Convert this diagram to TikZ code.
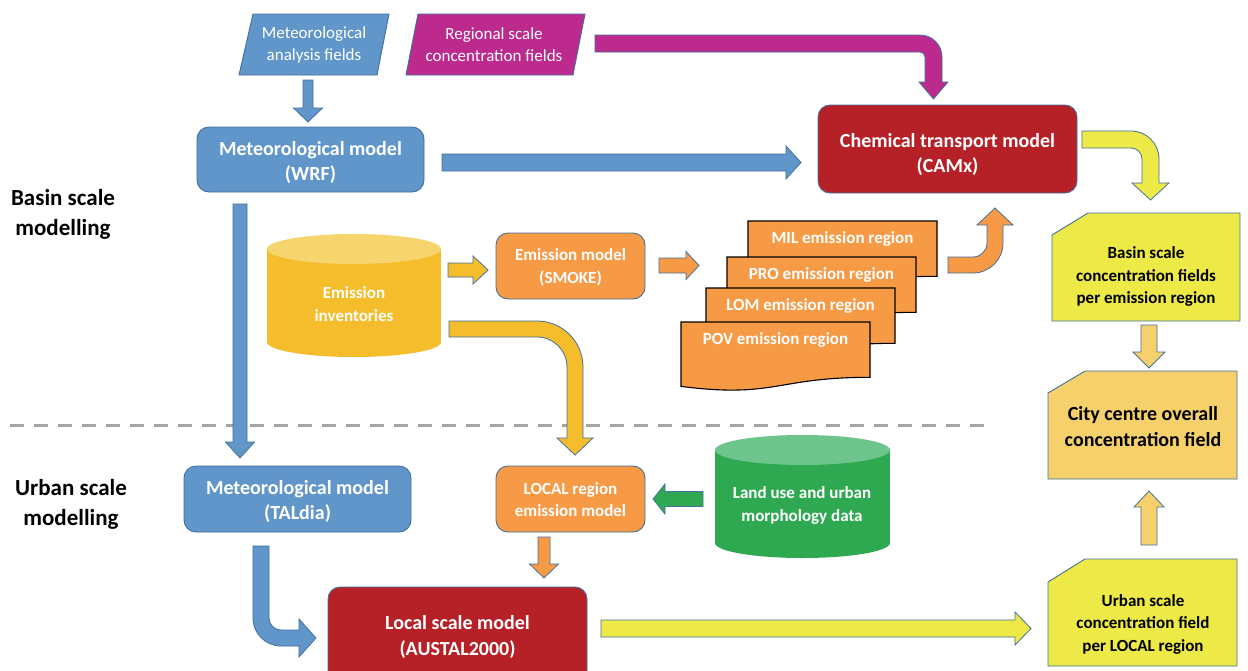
\documentclass[tikz,border=0pt]{standalone}
\usepackage{fontspec}
\setmainfont{Carlito}
\definecolor{cblue}{HTML}{6096C9}
\definecolor{olc}{HTML}{41719C}
\definecolor{cred}{HTML}{B52126}
\definecolor{cmag}{HTML}{BD2A8E}
\definecolor{corange}{HTML}{F79A46}
\definecolor{cgold}{HTML}{F5BC2B}
\definecolor{cgoldl}{HTML}{F7D56E}
\definecolor{cyellow}{HTML}{EDEA48}
\definecolor{clgold}{HTML}{F6D06B}
\definecolor{cgreen}{HTML}{2FA951}
\definecolor{cgreenl}{HTML}{6DC48C}
\definecolor{dashc}{HTML}{A5A5A5}
\newcommand\hblock[7]{% style, x0, xtip, yc, shaft half, head half, head length
  \pgfmathsetmacro\xb{#3-sign(#3-#2)*#7}%
  \draw[#1] (#2,#4-#5) -- (\xb,#4-#5) -- (\xb,#4-#6) -- (#3,#4) -- (\xb,#4+#6) -- (\xb,#4+#5) -- (#2,#4+#5) -- cycle;}
\newcommand\vblock[7]{% style, y0, ytip, xc, shaft half, head half, head length
  \pgfmathsetmacro\yb{#3-sign(#3-#2)*#7}%
  \draw[#1] (#4-#5,#2) -- (#4-#5,\yb) -- (#4-#6,\yb) -- (#4,#3) -- (#4+#6,\yb) -- (#4+#5,\yb) -- (#4+#5,#2) -- cycle;}
\newcommand\docshape[4]{% x1, y1, label, name
  \draw[docst] (#1,#2) -- (#1+189,#2) -- (#1+189,#2+55.3) .. controls (#1+94.5,#2+55.3) and (#1+94.5,#2+76.4) .. (#1,#2+64.4) -- cycle;
  \node[smalltxt, text=white] (#4) at (#1+94.5,#2+18) {#3};}
\begin{document}
\begin{tikzpicture}[x=1pt,y=-1pt,
  smalltxt/.style={font=\fontsize{17}{22.5}\selectfont\bfseries, align=center, inner sep=0pt},
  bigtxt/.style={font=\fontsize{20}{25.5}\selectfont\bfseries, align=center, inner sep=0pt},
  sidetxt/.style={font=\fontsize{23}{30}\selectfont\bfseries, align=center, inner sep=0pt},
  paratxt/.style={font=\fontsize{17}{22}\selectfont, align=center, inner sep=0pt, text=white},
  rbox/.style={draw=olc, line width=0.9pt, rounded corners=12pt, inner sep=0pt},
  shp/.style={draw=olc, line width=0.9pt},
  docst/.style={draw=black, line width=1.1pt, fill=corange},
  ba/.style={draw=olc, line width=0.8pt, fill=#1}]
\useasboundingbox (0,0) rectangle (1248,670);
\clip (0,0) rectangle (1248,670);
\fill[white] (0,0) rectangle (1248,670);

% separator
\draw[dashc, line width=3pt, dash pattern=on 14pt off 10pt] (10,425) -- (985,425);

% side labels
\node[sidetxt] (basinlbl) at (63,214) {Basin scale\\modelling};
\node[sidetxt] (urbanlbl) at (71,504.5) {Urban scale\\modelling};

% input parallelograms
\path[shp, fill=cblue] (253,14) -- (389,14) -- (377,75) -- (239,75) -- cycle;
\node[paratxt] (maf) at (314,45) {Meteorological\\analysis fields};
\path[shp, fill=cmag] (418,14) -- (585,14) -- (573,75) -- (406,75) -- cycle;
\node[paratxt] (rsc) at (494,45) {Regional scale\\concentration fields};

% rounded model boxes
\node[rbox, fill=cblue, minimum width=227pt, minimum height=65pt] (wrf) at (310.5,159.5) {};
\node[bigtxt, text=white] (wrf-t) at (310.5,162.5) {Meteorological model\\(WRF)};
\node[rbox, fill=cred, minimum width=259pt, minimum height=88pt] (camx) at (947.5,149) {};
\node[bigtxt, text=white] (camx-t) at (947.5,154.5) {Chemical transport model\\(CAMx)};
\node[rbox, fill=corange, minimum width=149pt, minimum height=66pt] (smoke) at (570.5,266) {};
\node[smalltxt, text=white] (smoke-t) at (570.5,267.5) {Emission model\\(SMOKE)};
\node[rbox, fill=cblue, minimum width=227pt, minimum height=66pt] (taldia) at (297.5,499) {};
\node[bigtxt, text=white] (taldia-t) at (297.5,501.5) {Meteorological model\\(TALdia)};
\node[rbox, fill=corange, minimum width=149pt, minimum height=66pt] (local) at (570.5,499) {};
\node[smalltxt, text=white] (local-t) at (570.5,499.5) {LOCAL region\\emission model};
\node[rbox, fill=cred, minimum width=259pt, minimum height=97pt] (austal) at (457.5,635.5) {};
\node[bigtxt, text=white] (austal-t) at (457.5,637) {Local scale model\\(AUSTAL2000)};

% cylinders
\fill[cgold] (267,249) rectangle (441,342);
\fill[cgold] (354,342) ellipse [x radius=87, y radius=15];
\fill[cgoldl] (354,249) ellipse [x radius=87, y radius=15];
\node[smalltxt, text=white] (inv) at (354,304) {Emission\\inventories};
\fill[cgreen] (715,450) rectangle (890,543);
\fill[cgreen] (802.5,543) ellipse [x radius=87.5, y radius=15];
\fill[cgreenl] (802.5,450) ellipse [x radius=87.5, y radius=15];
\node[smalltxt, text=white] (land) at (802,505.5) {Land use and urban\\morphology data};

% emission region documents
\docshape{748}{221}{MIL emission region}{mil}
\docshape{727}{257}{PRO emission region}{pro}
\docshape{706}{288}{LOM emission region}{lom}
\docshape{681}{322}{POV emission region}{pov}

% result boxes (snipped corner)
\path[shp, fill=cyellow] (1088,213) -- (1240,213) -- (1240,321) -- (1052,321) -- (1052,235) -- cycle;
\node[smalltxt, text=black] (basin) at (1146,276.5) {Basin scale\\concentration fields\\per emission region};
\path[shp, fill=clgold] (1085,371) -- (1237,371) -- (1237,479) -- (1048,479) -- (1048,393) -- cycle;
\node[bigtxt, text=black] (city) at (1143,426.5) {City centre overall\\concentration field};
\path[shp, fill=cyellow] (1085,559) -- (1237,559) -- (1237,666) -- (1048,666) -- (1048,582) -- cycle;
\node[smalltxt, text=black] (urban) at (1143,624) {Urban scale\\concentration field\\per LOCAL region};

% straight block arrows
\vblock{ba=cblue}{80}{122}{308}{5}{14.5}{14}
\hblock{ba=cblue}{442}{801}{162.5}{8.5}{16.5}{15}
\vblock{ba=cblue}{204}{458}{240}{7}{14.5}{16}
\hblock{ba=cgold}{448}{488}{270}{7}{14}{15}
\hblock{ba=corange}{659}{699}{265.5}{7.5}{14}{13}
\vblock{ba=clgold}{325}{368}{1149}{8}{16}{16}
\vblock{ba=clgold}{545}{491}{1149}{8}{15}{16}
\hblock{ba=cgreen}{703}{653}{499}{7.5}{15}{12}
\vblock{ba=corange}{537}{578}{544}{6}{14.5}{14}
\hblock{ba=cyellow}{601}{1031}{628.5}{8.5}{16.5}{16}

% bent block arrows
% regional fields -> CAMx
\draw[ba=cmag] (595,35) -- (920,35) .. controls (932.15,35) and (942,44.85) .. (942,57) -- (942,82) -- (948,82) -- (933.5,99) -- (919,82) -- (925,82) -- (925,57) .. controls (925,54.24) and (922.76,52) .. (920,52) -- (595,52) -- cycle;
% CAMx -> basin fields
\draw[ba=cyellow] (1082,131) -- (1131,131) .. controls (1146.5,131) and (1159,143.5) .. (1159,159) -- (1159,183) -- (1169,183) -- (1150.5,200) -- (1132,183) -- (1142,183) -- (1142,159) .. controls (1142,152.9) and (1137.1,148) .. (1131,148) -- (1082,148) -- cycle;
% inventories -> LOCAL
\draw[ba=cgold] (449,321) -- (537,321) .. controls (562.4,321) and (583,341.6) .. (583,367) -- (583,438) -- (593,438) -- (575,455) -- (557,438) -- (567,438) -- (567,367) .. controls (567,350.4) and (553.6,337) .. (537,337) -- (449,337) -- cycle;
% emission regions -> CAMx
\draw[ba=corange] (948,257) -- (973,257) .. controls (980.7,257) and (987,250.7) .. (987,243) -- (987,225) -- (977,225) -- (995,208) -- (1013,225) -- (1003,225) -- (1003,243) .. controls (1003,259.6) and (989.6,273) .. (973,273) -- (948,273) -- cycle;
% TALdia -> AUSTAL
\draw[ba=cblue] (253,546) -- (253,618) .. controls (253,633.5) and (265.5,646) .. (281,646) -- (299,646) -- (299,657) -- (316,638) -- (299,619) -- (299,630) -- (281,630) .. controls (274.4,630) and (269,624.6) .. (269,618) -- (269,546) -- cycle;
\end{tikzpicture}
\end{document}
